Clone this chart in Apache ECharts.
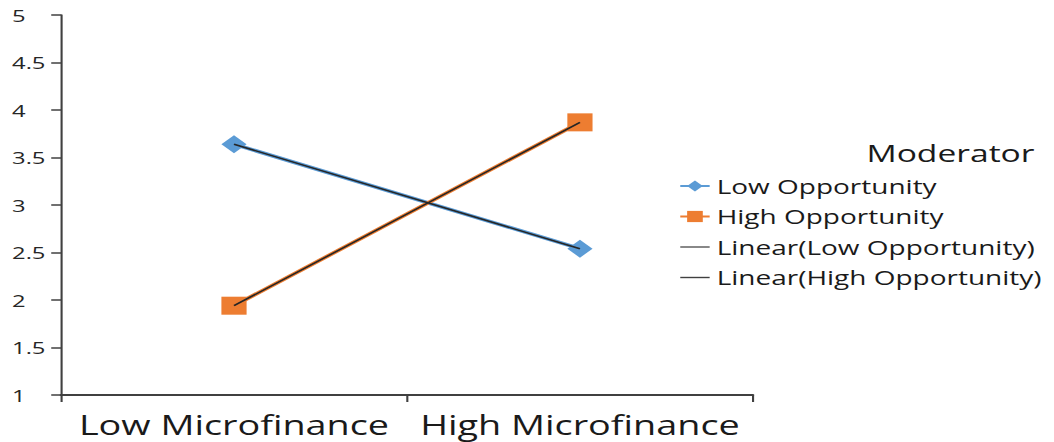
<!DOCTYPE html>
<html><head><meta charset="utf-8">
<script src="https://cdn.jsdelivr.net/npm/echarts@6/dist/echarts.min.js"></script>
<style>
html,body{margin:0;padding:0;background:#fff;overflow:hidden}
#wrap{width:1054px;height:442px;overflow:hidden;position:relative}
#chart{width:753px;height:442px;transform:scaleX(1.39973);transform-origin:0 0}
</style></head>
<body><div id="wrap"><div id="chart"></div></div>
<script>
// ---- data ----
const categories = ['Low Microfinance', 'High Microfinance'];
const lowOpportunity = [3.64, 2.54];
const highOpportunity = [1.94, 3.87];
const yTickLabels = ['1', '1.5', '2', '2.5', '3', '3.5', '4', '4.5', '5'];
const legendTitle = 'Moderator';
const seriesNames = ['Low Opportunity', 'High Opportunity', 'Linear(Low Opportunity)', 'Linear(High Opportunity)'];

// least-squares linear trend over category index
function linearTrend(vals) {
  const n = vals.length;
  let sx = 0, sy = 0, sxx = 0, sxy = 0;
  vals.forEach((v, i) => { sx += i; sy += v; sxx += i * i; sxy += i * v; });
  const b = (n * sxy - sx * sy) / (n * sxx - sx * sx);
  const a = (sy - b * sx) / n;
  return vals.map((_, i) => a + b * i);
}

const FONT = '"Open Sans", "DejaVu Sans", sans-serif';
const LINE_ICON = 'path://M0,0H21V1.4H0Z';
const chart = echarts.init(document.getElementById('chart'), null, { renderer: 'svg' });
const yMin = parseFloat(yTickLabels[0]);
const yMax = parseFloat(yTickLabels[yTickLabels.length - 1]);
const yStep = parseFloat(yTickLabels[1]) - yMin;

chart.setOption({
  animation: false,
  backgroundColor: '#fff',
  title: {
    text: legendTitle,
    left: 619, top: 141, padding: 0,
    textStyle: { fontFamily: FONT, fontSize: 24, fontWeight: 'normal', color: '#1a1a1a' }
  },
  legend: {
    orient: 'vertical',
    left: 485, top: 176, padding: 0,
    itemWidth: 21, itemHeight: 14, itemGap: 10.5,
    textStyle: { fontFamily: FONT, fontSize: 20, color: '#1a1a1a', lineHeight: 20 },
    data: [
      { name: seriesNames[0] },
      { name: seriesNames[1] },
      { name: seriesNames[2], icon: LINE_ICON, itemStyle: { color: '#555555' } },
      { name: seriesNames[3], icon: LINE_ICON, itemStyle: { color: '#404040' } }
    ]
  },
  grid: { left: 43.6, right: 215.1, top: 15, bottom: 47, containLabel: false },
  xAxis: {
    type: 'category',
    data: categories,
    boundaryGap: true,
    axisLine: { lineStyle: { color: '#404040', width: 2 } },
    axisTick: { show: true, length: 7, lineStyle: { color: '#404040', width: 1.5 } },
    axisLabel: { fontFamily: FONT, fontSize: 27, color: '#1a1a1a', margin: 16, interval: 0 },
    splitLine: { show: false }
  },
  yAxis: {
    type: 'value',
    min: yMin, max: yMax, interval: yStep,
    axisLine: { show: true, lineStyle: { color: '#404040', width: 1.5 } },
    axisTick: { show: true, length: 7, lineStyle: { color: '#404040', width: 1.5 } },
    axisLabel: { fontFamily: FONT, fontSize: 17, color: '#262626', align: 'left', margin: 35,
      formatter: (v) => yTickLabels[Math.round((v - yMin) / yStep)] },
    splitLine: { show: false }
  },
  series: [
    {
      name: seriesNames[0], type: 'line', data: lowOpportunity,
      symbol: 'diamond', symbolSize: 18,
      itemStyle: { color: '#5B9BD5' },
      lineStyle: { color: '#5B9BD5', width: 3.5 }, z: 2
    },
    {
      name: seriesNames[1], type: 'line', data: highOpportunity,
      symbol: 'rect', symbolSize: 18,
      itemStyle: { color: '#ED7D31' },
      lineStyle: { color: '#ED7D31', width: 3.5 }, z: 2
    },
    {
      name: seriesNames[2], type: 'line', data: linearTrend(lowOpportunity),
      symbol: 'none', itemStyle: { color: '#262626' },
      lineStyle: { color: '#262626', width: 1.5 }, z: 5
    },
    {
      name: seriesNames[3], type: 'line', data: linearTrend(highOpportunity),
      symbol: 'none', itemStyle: { color: '#262626' },
      lineStyle: { color: '#262626', width: 1.5 }, z: 5
    }
  ]
});
</script>
</body></html>
